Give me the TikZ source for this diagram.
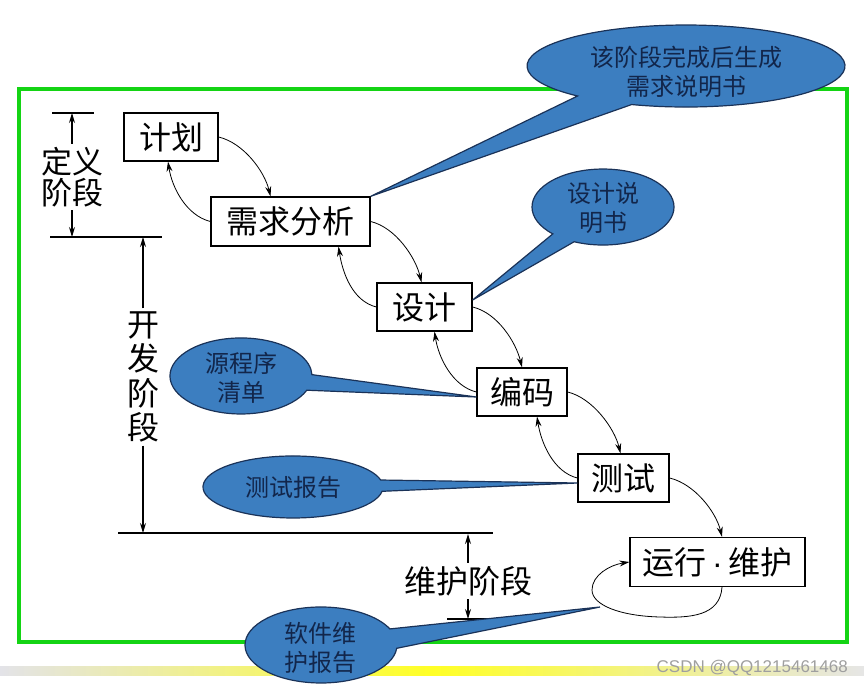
\documentclass[tikz,border=0pt]{standalone}
\usepackage{fontspec}
\setmainfont{Liberation Sans}
\newfontfamily\cjk{Noto Sans CJK SC}
\usetikzlibrary{arrows.meta}
\definecolor{framegreen}{RGB}{20,212,20}
\definecolor{calloutblue}{RGB}{60,126,192}
\definecolor{calloutline}{RGB}{26,50,88}
\definecolor{callouttext}{RGB}{18,38,75}
\tikzset{
  stagebox/.style={draw, line width=1.3pt, fill=white, minimum height=48pt, inner sep=0pt,
    font=\cjk\fontsize{32}{36}\selectfont},
  flow/.style={-{Stealth[length=10pt,width=6pt]}, line width=0.8pt},
  dimarrow/.style={-{Stealth[length=10pt,width=6pt]}, line width=1.2pt},
  dimline/.style={line width=1.2pt},
  dimtext/.style={font=\cjk\fontsize{31}{33}\selectfont, inner sep=3pt, align=center},
  callout/.style={draw=calloutline, fill=calloutblue, line width=1.2pt},
  ctext/.style={font=\cjk\fontsize{24}{29}\selectfont, text=callouttext, align=center, inner sep=0pt}
}
\begin{document}
\begin{tikzpicture}[x=1pt,y=-1pt]
\useasboundingbox (0,0) rectangle (864,687);
% background strip
\shade[left color=blue!10!gray!20, right color=gray!20, middle color=yellow!85!white] (0,666) rectangle (864,675);
% green frame
\draw[framegreen, line width=4pt] (19,89) rectangle (847,642);

% stage boxes
\node[stagebox, minimum width=94pt] (plan) at (171,137) {计划};
\node[stagebox, minimum width=159pt, minimum height=49pt] (req) at (290.5,221.5) {需求分析};
\node[stagebox, minimum width=95pt] (des) at (424.5,307) {设计};
\node[stagebox, minimum width=90pt] (code) at (522,392) {编码};
\node[stagebox, minimum width=91pt] (test) at (623.5,478) {测试};
\node[stagebox, minimum width=175pt, minimum height=49pt] (run) at (717.5,562) {运行{\rmfamily\fontsize{32}{36}\selectfont\,·\,}维护};

% forward / backward arrows
\draw[flow] (plan.east) .. controls +(25,6) and +(-6,-25) .. ([xshift=-20pt]req.north);
\draw[flow] (req.west) .. controls +(-24,-6) and +(4,26) .. ([xshift=-3pt]plan.south);
\draw[flow] (req.east) .. controls +(25,6) and +(-6,-25) .. ([xshift=-3pt]des.north);
\draw[flow] (des.west) .. controls +(-24,-6) and +(4,26) .. ([xshift=48pt]req.south);
\draw[flow] (des.east) .. controls +(25,6) and +(-6,-25) .. (code.north);
\draw[flow] (code.west) .. controls +(-24,-6) and +(4,26) .. ([xshift=10pt]des.south);
\draw[flow] (code.east) .. controls +(25,6) and +(-6,-25) .. ([xshift=-3pt]test.north);
\draw[flow] (test.west) .. controls +(-24,-6) and +(4,26) .. ([xshift=15pt]code.south);
\draw[flow] (test.east) .. controls +(25,6) and +(-6,-25) .. ([xshift=4.5pt]run.north);
% self loop
\draw[flow] ([xshift=4.5pt]run.south) .. controls +(-2,29) and (690,618) .. (660,617)
  .. controls (620,616) and (592,605) .. (592,590)
  .. controls (592,575) and (610,565) .. (run.west);
\coordinate (looptip) at (600,607);

% dimension lines
\draw[dimline] (52,113) -- (94,113);
\draw[dimline] (50,237) -- (162,237);
\draw[dimline] (118,533) -- (493,533);
\draw[dimline] (447,619) -- (492,619);
\coordinate (d1a) at (72,113);
\coordinate (d1b) at (72,237);
\coordinate (d2a) at (143,237);
\coordinate (d2b) at (143,533);
\coordinate (d3a) at (468,534);
\coordinate (d3b) at (468,619);
\node[dimtext] (deftxt) at (72,177) {定义\\[-2pt]阶段};
\node[dimtext, font=\cjk\fontsize{32}{34.5}\selectfont] (devtxt) at (143,377) {开\\发\\阶\\段};
\node[dimtext, font=\cjk\fontsize{32}{34}\selectfont] (maintxt) at (468,581) {维护阶段};
\draw[dimarrow] (deftxt.north) -- (d1a);
\draw[dimarrow] (deftxt.south) -- (d1b);
\draw[dimarrow] (devtxt.north) -- (d2a);
\draw[dimarrow] (devtxt.south) -- (d2b);
\draw[dimarrow] (maintxt.north) -- (d3a);
\draw[dimarrow] (maintxt.south) -- (d3b);

% callouts
\draw[callout] (577.6,96.0) arc[start angle=133, end angle=470, x radius=159, y radius=41]
  -- (req.north east) -- cycle;
\node[ctext] (c1) at (686,72) {该阶段完成后生成\\需求说明书};

\draw[callout] (552.8,233.9) arc[start angle=135, end angle=474, x radius=71, y radius=38]
  -- ([yshift=7pt]des.east) -- cycle;
\node[ctext] (c2) at (603,208) {设计说\\明书};

\draw[callout] (306.8,390.2) arc[start angle=22, end angle=358, x radius=71, y radius=38]
  -- ([yshift=-5pt]code.west) -- cycle;
\node[ctext] (c3) at (241,377.5) {源程序\\清单};

\draw[callout] (382.1,491.3) arc[start angle=8, end angle=347, x radius=90, y radius=31]
  -- ([yshift=-5pt]test.west) -- cycle;
\node[ctext] (c4) at (293,487) {测试报告};

\draw[callout] (396.7,648.3) arc[start angle=5, end angle=335, x radius=76, y radius=38]
  -- (looptip) -- cycle;
\node[ctext] (c5) at (320,648) {软件维\\护报告};

% watermark
\node[anchor=east, text=gray!75, font=\fontsize{17}{17}\selectfont, inner sep=0pt] (wm) at (848,668) {CSDN @QQ1215461468};
\end{tikzpicture}
\end{document}
